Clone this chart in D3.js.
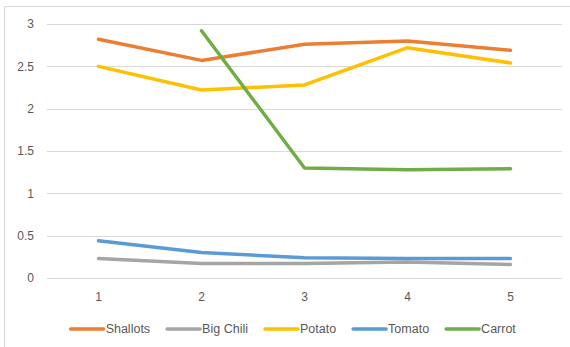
<!DOCTYPE html>
<html>
<head>
<meta charset="utf-8">
<script src="https://cdn.jsdelivr.net/npm/d3@7"></script>
<style>
html,body{margin:0;padding:0;background:#fff;}
svg{display:block;}
</style>
</head>
<body>
<svg id="chart" width="570" height="347"></svg>
<script>
const categories = ["1", "2", "3", "4", "5"];
const seriesNames = ["Shallots", "Big Chili", "Potato", "Tomato", "Carrot"];
const shallots = [2.82, 2.57, 2.76, 2.80, 2.69];
const bigChili = [0.23, 0.17, 0.17, 0.19, 0.16];
const potato = [2.50, 2.22, 2.28, 2.72, 2.54];
const tomato = [0.44, 0.30, 0.24, 0.23, 0.23];
const carrot = [null, 2.92, 1.30, 1.28, 1.29];
const yTicks = [0, 0.5, 1, 1.5, 2, 2.5, 3];
const colors = ["#ED7D31", "#A5A5A5", "#FFC000", "#5B9BD5", "#70AD47"];

const seriesValues = [shallots, bigChili, potato, tomato, carrot];
const series = seriesNames.map((name, i) => ({name, values: seriesValues[i], color: colors[i]}));

const svg = d3.select("#chart");
const W = 570, H = 347;
const plot = {left: 47, right: 562, top: 24, bottom: 278};

// chart area border (top and left visible)
svg.append("line").attr("x1", 4.5).attr("x2", W).attr("y1", 6.5).attr("y2", 6.5)
  .attr("stroke", "#d9d9d9").attr("stroke-width", 1);
svg.append("line").attr("x1", 4.5).attr("x2", 4.5).attr("y1", 6.5).attr("y2", H)
  .attr("stroke", "#d9d9d9").attr("stroke-width", 1);

const x = d3.scaleBand().domain(categories).range([plot.left, plot.right]);
const y = d3.scaleLinear().domain([0, 3]).range([plot.bottom, plot.top]);

// gridlines
svg.append("g").selectAll("line").data(yTicks).join("line")
  .attr("x1", plot.left).attr("x2", plot.right)
  .attr("y1", d => Math.round(y(d)) + 0.5).attr("y2", d => Math.round(y(d)) + 0.5)
  .attr("stroke", "#d9d9d9").attr("stroke-width", 1);

// y axis labels
const yAxis = d3.axisLeft(y).tickValues(yTicks).tickSize(0).tickPadding(0).tickFormat(d3.format("~g"));
const gy = svg.append("g").attr("transform", `translate(34,0)`).call(yAxis);
gy.select(".domain").remove();
gy.selectAll("text").attr("font-family", "Liberation Sans, Arial, sans-serif")
  .attr("font-size", 12).attr("fill", "#595959");

// x axis labels
const xAxis = d3.axisBottom(x).tickSize(0).tickPadding(0);
const gx = svg.append("g").attr("transform", `translate(0,${plot.bottom + 14})`).call(xAxis);
gx.select(".domain").remove();
gx.selectAll("text").attr("font-family", "Liberation Sans, Arial, sans-serif")
  .attr("font-size", 12).attr("fill", "#595959");

// lines
const line = d3.line()
  .defined(d => d.v !== null)
  .x(d => x(d.c) + x.bandwidth() / 2)
  .y(d => y(d.v));

svg.append("g").selectAll("path").data(series).join("path")
  .attr("d", s => line(s.values.map((v, i) => ({c: categories[i], v}))))
  .attr("fill", "none")
  .attr("stroke", s => s.color)
  .attr("stroke-width", 3.5)
  .attr("stroke-linejoin", "round")
  .attr("stroke-linecap", "round");

// legend
const legend = svg.append("g");
const ly = 329;
const lineLen = 33, textGap = 2, itemGap = 17;
let cx = 67;
series.forEach(s => {
  const g = legend.append("g");
  g.append("line").attr("x1", cx).attr("x2", cx + lineLen).attr("y1", ly).attr("y2", ly)
    .attr("stroke", s.color).attr("stroke-width", 3.5).attr("stroke-linecap", "round");
  const t = g.append("text").attr("x", cx + lineLen + textGap).attr("y", ly)
    .attr("dy", "0.35em")
    .attr("font-family", "Liberation Sans, Arial, sans-serif")
    .attr("font-size", 12.5).attr("fill", "#595959").text(s.name);
  cx += lineLen + textGap + t.node().getComputedTextLength() + itemGap;
});
// center legend to match reference extent (67..521)
const lb = legend.node().getBBox();
const targetCenter = (66 + 521) / 2;
legend.attr("transform", `translate(${targetCenter - (lb.x + lb.width / 2)},0)`);
</script>
</body>
</html>
